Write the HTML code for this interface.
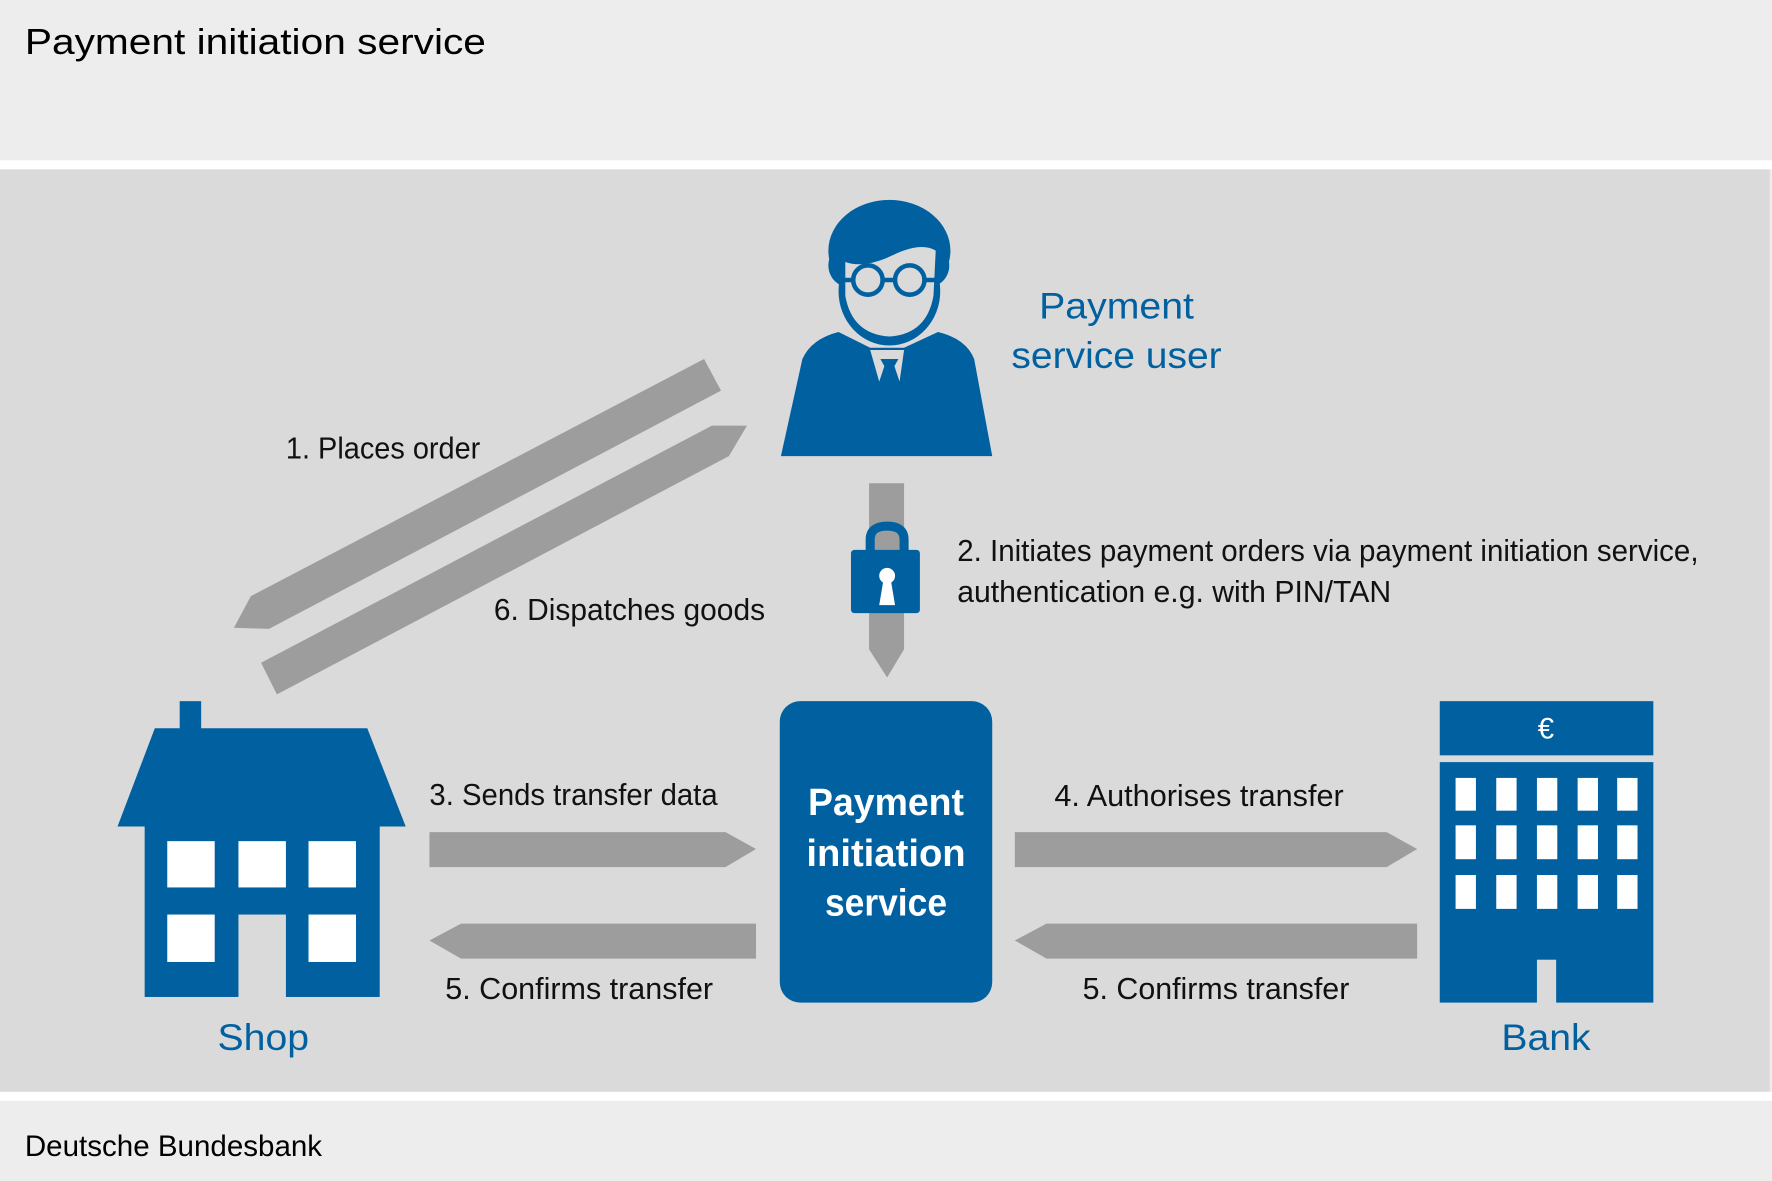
<!DOCTYPE html>
<html><head><meta charset="utf-8"><style>html,body{margin:0;padding:0;background:#ededed}svg{display:block}</style></head>
<body>
<svg width="1772" height="1181" viewBox="0 0 1568 1046" preserveAspectRatio="none" xmlns="http://www.w3.org/2000/svg" font-family="Liberation Sans, sans-serif">
<rect x="0" y="0" width="1568" height="1046" fill="#ededed"/>
<rect x="0" y="142" width="1568" height="8" fill="#ffffff"/>
<rect x="0" y="150" width="1566" height="817" fill="#dadada"/>
<rect x="0" y="967" width="1568" height="8" fill="#ffffff"/>
<text x="22" y="48" font-size="32" fill="#000" textLength="408" lengthAdjust="spacingAndGlyphs">Payment initiation service</text>
<text x="22" y="1024" font-size="26" fill="#000" textLength="263" lengthAdjust="spacingAndGlyphs">Deutsche Bundesbank</text>

<!-- person -->
<g fill="#0060a0">
<path d="M691,404 L878,404 L862,318 Q855,300 830,294 L800,308 L770,308 L742,294 Q718,300 710,318 Z"/>
<ellipse cx="787" cy="222" rx="54" ry="45"/>
<rect x="733" y="215" width="107" height="40" rx="20"/>
<ellipse cx="787" cy="258" rx="45" ry="48"/>
</g>
<path d="M748,232 Q765,238 790,226 Q815,214 828,222 L826,262 Q820,296 787,298 Q754,296 748,262 Z" fill="#dadada"/>
<g fill="none" stroke="#0060a0" stroke-width="4">
<circle cx="768" cy="248" r="13"/><circle cx="805" cy="248" r="13"/>
<line x1="781" y1="248" x2="792" y2="248"/><line x1="745" y1="248" x2="755" y2="248"/><line x1="818" y1="248" x2="828" y2="248"/>
</g>
<path d="M770,310 L800,310 L796,338 L791,323 L783,323 L778,338 Z" fill="#dadada"/>
<path d="M779,318 L795,318 L791,325 L795,338 L779,338 L783,325 Z" fill="#0060a0"/>

<text x="988" y="282" font-size="33" fill="#0060a0" text-anchor="middle" textLength="137" lengthAdjust="spacingAndGlyphs">Payment</text>
<text x="988" y="326" font-size="33" fill="#0060a0" text-anchor="middle" textLength="186" lengthAdjust="spacingAndGlyphs">service user</text>

<!-- diagonal arrows -->
<g fill="#9d9d9d">
<polygon points="623,318 638,346 238,557 207,556 222,528"/>
<polygon points="630,377 661,377 645,404 245,615 231,587"/>
<!-- vertical -->
<polygon points="769,428 800,428 800,575 785,600 769,575"/>
<!-- horizontal -->
<polygon points="380,737 642,737 669,752 642,768 380,768"/>
<polygon points="408,818 669,818 669,849 408,849 380,833"/>
<polygon points="898,737 1227,737 1254,752 1227,768 898,768"/>
<polygon points="926,818 1254,818 1254,849 926,849 898,833"/>
</g>

<!-- lock -->
<path d="M770,490 L770,478 Q770,466 785,466 Q800,466 800,478 L800,490" fill="none" stroke="#0060a0" stroke-width="8"/>
<rect x="753" y="487" width="61" height="56" rx="3" fill="#0060a0"/>
<circle cx="785" cy="510" r="7" fill="#fff"/>
<polygon points="782,512 788,512 792,536 778,536" fill="#fff"/>

<g font-size="27" fill="#111">
<text x="253" y="406" textLength="172" lengthAdjust="spacingAndGlyphs">1. Places order</text>
<text x="437" y="549" textLength="240" lengthAdjust="spacingAndGlyphs">6. Dispatches goods</text>
<text x="847" y="497" textLength="656" lengthAdjust="spacingAndGlyphs">2. Initiates payment orders via payment initiation service,</text>
<text x="847" y="533" textLength="384" lengthAdjust="spacingAndGlyphs">authentication e.g. with PIN/TAN</text>
<text x="380" y="713" textLength="255" lengthAdjust="spacingAndGlyphs">3. Sends transfer data</text>
<text x="933" y="714" textLength="256" lengthAdjust="spacingAndGlyphs">4. Authorises transfer</text>
<text x="394" y="885" textLength="237" lengthAdjust="spacingAndGlyphs">5. Confirms transfer</text>
<text x="958" y="885" textLength="236" lengthAdjust="spacingAndGlyphs">5. Confirms transfer</text>
</g>

<!-- PIS box -->
<rect x="690" y="621" width="188" height="267" rx="18" fill="#0060a0"/>
<g font-size="34" font-weight="bold" fill="#fff" text-anchor="middle">
<text x="784" y="722" textLength="138" lengthAdjust="spacingAndGlyphs">Payment</text>
<text x="784" y="767" textLength="141" lengthAdjust="spacingAndGlyphs">initiation</text>
<text x="784" y="811" textLength="108" lengthAdjust="spacingAndGlyphs">service</text>
</g>

<!-- shop -->
<g fill="#0060a0">
<rect x="159" y="621" width="19" height="26"/>
<polygon points="137,645 325,645 359,732 104,732"/>
<rect x="128" y="731" width="208" height="152"/>
</g>
<g fill="#fff">
<rect x="148" y="745" width="42" height="41"/><rect x="211" y="745" width="42" height="41"/><rect x="273" y="745" width="42" height="41"/>
<rect x="148" y="810" width="42" height="42"/><rect x="273" y="810" width="42" height="42"/>
</g>
<rect x="211" y="810" width="42" height="74" fill="#dadada"/>
<text x="233" y="930" font-size="33" fill="#0060a0" text-anchor="middle" textLength="81" lengthAdjust="spacingAndGlyphs">Shop</text>

<!-- bank -->
<rect x="1274" y="621" width="189" height="48" fill="#0060a0"/>
<text x="1368" y="654" font-size="26" fill="#fff" text-anchor="middle">€</text>
<rect x="1274" y="675" width="189" height="213" fill="#0060a0"/>
<g fill="#fff">
<rect x="1288" y="689" width="18" height="29"/><rect x="1324" y="689" width="18" height="29"/><rect x="1360" y="689" width="18" height="29"/><rect x="1396" y="689" width="18" height="29"/><rect x="1431" y="689" width="18" height="29"/>
<rect x="1288" y="731" width="18" height="30"/><rect x="1324" y="731" width="18" height="30"/><rect x="1360" y="731" width="18" height="30"/><rect x="1396" y="731" width="18" height="30"/><rect x="1431" y="731" width="18" height="30"/>
<rect x="1288" y="775" width="18" height="30"/><rect x="1324" y="775" width="18" height="30"/><rect x="1360" y="775" width="18" height="30"/><rect x="1396" y="775" width="18" height="30"/><rect x="1431" y="775" width="18" height="30"/>
</g>
<rect x="1360" y="850" width="17" height="39" fill="#dadada"/>
<text x="1368" y="930" font-size="33" fill="#0060a0" text-anchor="middle" textLength="79" lengthAdjust="spacingAndGlyphs">Bank</text>
</svg>
</body></html>
